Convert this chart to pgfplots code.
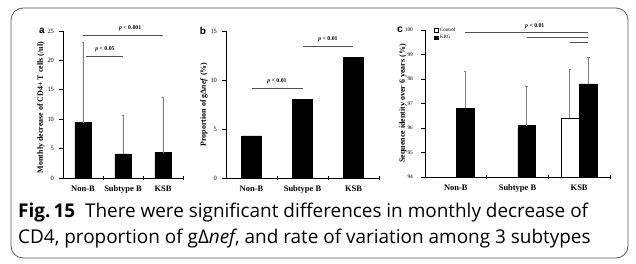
\documentclass[border=0pt]{standalone}
\usepackage{pgfplots}
\pgfplotsset{compat=1.18}
\usepackage{fontspec}
\setmainfont{Liberation Serif}
\newfontfamily\capfont{Open Sans}
\newfontfamily\letterfont{Liberation Sans}
\definecolor{errgray}{RGB}{128,128,128}
\definecolor{siggray}{RGB}{80,80,80}
\definecolor{framegray}{RGB}{90,90,90}
\newcommand{\pv}[1]{{\bfseries\fontsize{5.8}{6}\selectfont\textit{p} < #1}}
\pgfplotsset{
  panel/.style={
    scale only axis, height=147bp,
    axis lines*=left,
    axis line style={black, line width=0.8bp},
    xmin=-0.5, xmax=2.5,
    xtick={0.5,1.5,2.5}, xticklabels={},
    x tick style={black, line width=0.8bp, yshift=2bp},
    y tick style={black, line width=0.8bp},
    major tick length=4bp,
    tick align=outside,
    extra x ticks={0,1,2},
    extra x tick labels={Non-B,Subtype B,KSB},
    extra x tick style={major tick length=0pt, tick label style={font=\bfseries\fontsize{8.5}{9}\selectfont, yshift=-4.5bp}},
    y tick label style={font=\fontsize{6.5}{7}\selectfont, xshift=-1.5bp},
    /pgf/number format/assume math mode=true,
    ylabel style={font=\bfseries\fontsize{8}{9}\selectfont, at={(axis description cs:0,0.5)}, anchor=center, yshift=22bp},
    ybar, bar shift=0pt,
    clip mode=individual,
  },
  blackbar/.style={fill=black, draw=black, line width=0.5bp},
  whitebar/.style={fill=white, draw=black, line width=0.6bp},
  errs/.style={error bars/.cd, y dir=plus, y explicit,
    error bar style={errgray, line width=0.9bp},
    error mark options={errgray, rotate=90, mark size=1.3bp, line width=0.9bp}},
  sig/.style={siggray, line width=0.9bp, mark=none, forget plot},
}
\begin{document}
\begin{tikzpicture}
\path[use as bounding box] (0,0) rectangle (636bp,264bp);
\fill[white] (0,0) rectangle (636bp,264bp);
\draw[framegray, line width=0.8bp, rounded corners=12bp] (11bp,6bp) rectangle (628bp,256bp);

% Panel a
\begin{axis}[panel, at={(63bp,86bp)}, anchor=south west, width=120bp,
  ymin=0, ymax=25, ytick={0,5,10,15,20,25}, bar width=0.4,
  ylabel={Monthly decrease of CD4+ T cells (/ul)},
  ylabel style={yshift=0bp, xshift=-3bp}]
\addplot[blackbar, errs] coordinates {(0,9.4) +- (0,13.6) (1,4.1) +- (0,6.5) (2,4.3) +- (0,9.4)};
\addplot[sig, sharp plot] coordinates {(0.075,20.7) (1.0,20.7)};
\addplot[sig, sharp plot] coordinates {(0.0,24.3) (2.0,24.3)};
\node[anchor=south] at (axis cs:0.55,20.9) {\pv{0.05}};
\node[anchor=south] at (axis cs:1.18,24.5) {\pv{0.001}};
\end{axis}

% Panel b
\begin{axis}[panel, at={(226bp,86bp)}, anchor=south west, width=153bp,
  ymin=0, ymax=15, ytick={0,5,10,15}, bar width=0.39,
  ylabel={Proportion of gΔ\textit{nef} (\%)}]
\addplot[blackbar] coordinates {(0,4.3) (1,8.0) (2,12.3)};
\addplot[sig, sharp plot] coordinates {(0.01,9.1) (1.0,9.1)};
\addplot[sig, sharp plot] coordinates {(1.0,13.4) (1.99,13.4)};
\node[anchor=south] at (axis cs:0.5,9.25) {\pv{0.01}};
\node[anchor=south] at (axis cs:1.5,13.55) {\pv{0.01}};
\end{axis}

% Panel c
\begin{axis}[panel, at={(425bp,87bp)}, anchor=south west, width=185bp,
  ymin=94, ymax=100, ytick={94,95,96,97,98,99,100}, bar width=0.29,
  y tick label style={font=\fontsize{5.5}{6}\selectfont, xshift=-3bp},
  ylabel={Sequence identity over 6 years (\%)},
  legend style={draw=none, fill=none, font=\fontsize{5}{5.5}\selectfont, at={(axis description cs:0.05,1.03)}, anchor=north west, inner sep=0pt, row sep=-1.5bp, legend cell align=left},
  legend image code/.code={\draw[#1, line width=0.4bp] (0bp,-1.6bp) rectangle (3.2bp,1.6bp);},
  ]
\addplot[whitebar, errs] coordinates {(1.85,96.4) +- (0,2.0)};
\addlegendentry{Control}
\addplot[blackbar, errs] coordinates {(0.15,96.8) +- (0,1.5) (1.15,96.1) +- (0,1.6) (2.15,97.8) +- (0,1.1)};
\addlegendentry{KRG}
\addplot[sig, sharp plot] coordinates {(0.15,99.88) (2.14,99.88)};
\addplot[sig, sharp plot] coordinates {(1.15,99.71) (2.14,99.71)};
\addplot[sig, sharp plot] coordinates {(1.85,99.51) (2.14,99.51)};
\node[anchor=south] at (axis cs:1.28,99.92) {\pv{0.01}};
\end{axis}

% panel letters
\node[font=\letterfont\bfseries\fontsize{10}{10}\selectfont] at (42bp,233bp) {a};
\node[font=\letterfont\bfseries\fontsize{10}{10}\selectfont] at (203bp,233bp) {b};
\node[font=\letterfont\bfseries\fontsize{10.5}{11}\selectfont] at (400bp,234bp) {c};

% caption
\node[anchor=base west, inner sep=0pt, font=\capfont\fontsize{19}{22}\selectfont] at (18bp,46bp) {{\bfseries Fig.\,15}\ \ There were significant differences in monthly decrease of};
\node[anchor=base west, inner sep=0pt, font=\capfont\fontsize{19}{22}\selectfont] at (18bp,21bp) {CD4, proportion of gΔ\textit{nef}, and rate of variation among 3 subtypes};
\end{tikzpicture}
\end{document}
